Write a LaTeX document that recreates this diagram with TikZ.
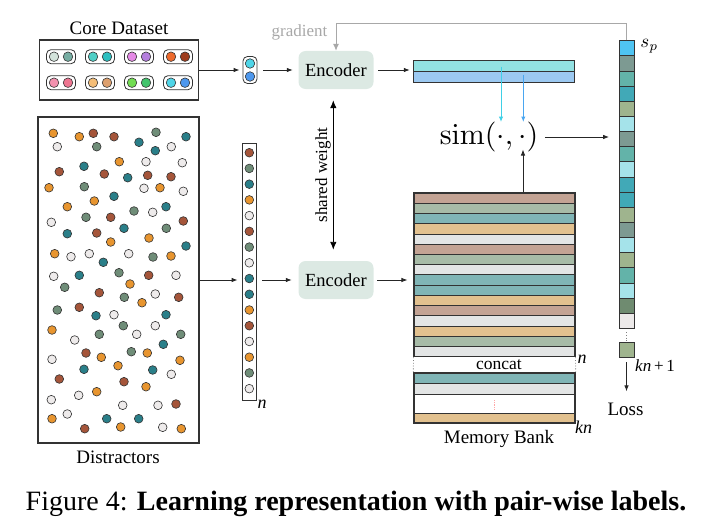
\documentclass[tikz,border=0pt]{standalone}
\usepackage[no-math]{fontspec}
\setmainfont{Liberation Serif}
\usetikzlibrary{arrows.meta}
% core pair colours
\definecolor{ca1}{HTML}{D3E3DB}\definecolor{cb1}{HTML}{76ADA2}
\definecolor{ca2}{HTML}{4ECFC6}\definecolor{cb2}{HTML}{2BBFC0}
\definecolor{ca3}{HTML}{E58AE6}\definecolor{cb3}{HTML}{B47EDD}
\definecolor{ca4}{HTML}{EE6A2C}\definecolor{cb4}{HTML}{9E3C1C}
\definecolor{ca5}{HTML}{F391AE}\definecolor{cb5}{HTML}{EE7590}
\definecolor{ca6}{HTML}{F5BE78}\definecolor{cb6}{HTML}{DDA06E}
\definecolor{ca7}{HTML}{72DD52}\definecolor{cb7}{HTML}{42C46C}
\definecolor{ca8}{HTML}{4FD5E8}\definecolor{cb8}{HTML}{4E98EE}
% distractor colours
\definecolor{dO}{HTML}{E8952F}\definecolor{dB}{HTML}{A5553A}
\definecolor{dT}{HTML}{2A7F89}\definecolor{dG}{HTML}{6F8D78}
\definecolor{dW}{HTML}{EEEBEB}
% memory bank colours
\definecolor{mB}{HTML}{C3A394}\definecolor{mG}{HTML}{A7BBA7}
\definecolor{mT}{HTML}{80B5B6}\definecolor{mO}{HTML}{E2C18F}
\definecolor{mW}{HTML}{E3E5E5}
% score column colours
\definecolor{kBl}{HTML}{4FC4F2}\definecolor{kGT}{HTML}{7D9A92}
\definecolor{kTG}{HTML}{63B3A9}\definecolor{kT}{HTML}{41A9B7}
\definecolor{kS}{HTML}{9FB48E}\definecolor{kLC}{HTML}{A5E3EA}
\definecolor{kD}{HTML}{6F8B70}\definecolor{kLG}{HTML}{ECE9E9}
% misc
\definecolor{encfill}{HTML}{DCE9E3}
\definecolor{eC}{HTML}{92E1E2}\definecolor{eB}{HTML}{9CC9F1}
\definecolor{arC}{HTML}{3FD0E6}\definecolor{arB}{HTML}{4AA6F0}
\definecolor{gradc}{HTML}{A8A8A8}
\definecolor{linec}{HTML}{333333}
\begin{document}
\begin{tikzpicture}[x=1pt,y=-1pt,
  arr/.style={-{Latex[length=6pt,width=4.5pt]}, line width=0.8pt, draw=black!85},
  dbl/.style={{Latex[length=8pt,width=6.5pt]}-{Latex[length=8pt,width=6.5pt]}, line width=0.9pt},
  gradarr/.style={-{Latex[length=7pt,width=6pt]}, line width=1pt, draw=gradc},
  simarr/.style={-{Latex[length=5.5pt,width=4.5pt]}, line width=1pt},
  bigbox/.style={draw=linec, line width=1.2pt, inner sep=0pt},
  pairbox/.style={draw=linec, line width=0.8pt, rounded corners=4.5pt, fill=white, inner sep=0pt},
  dot/.style={circle, draw=linec, line width=0.6pt, inner sep=0pt, minimum size=8.7pt},
  enc/.style={rounded corners=7pt, fill=encfill, minimum width=75pt, minimum height=38pt, inner sep=0pt, font=\fontsize{18.5}{20}\selectfont},
  lbl/.style={font=\fontsize{19}{21}\selectfont, inner sep=0pt},
  ital/.style={font=\fontsize{18}{20}\selectfont\itshape, inner sep=0pt},
  memrow/.style={draw=linec, line width=0.8pt},
  cell/.style={draw=linec, line width=0.8pt, minimum width=15pt, minimum height=15.14pt, inner sep=0pt},
]
\useasboundingbox (0,0) rectangle (712,527);

% ---------------- Core dataset ----------------
\node[lbl, anchor=base] (coretitle) at (119,35) {Core Dataset};
\node[bigbox, minimum width=159pt, minimum height=60pt] (core) at (119,70) {};
\foreach \i/\x/\y in {1/61/56.7,2/100/56.7,3/139/56.7,4/178/56.7,5/61/82.7,6/100/82.7,7/139/82.7,8/178/82.7}{
  \node[pairbox, minimum width=29pt, minimum height=14pt] (cp\i) at (\x,\y) {};
  \node[dot, minimum size=9.5pt, fill=ca\i] (cpa\i) at ([xshift=-7pt]cp\i.center) {};
  \node[dot, minimum size=9.5pt, fill=cb\i] (cpb\i) at ([xshift=7pt]cp\i.center) {};
}
% sampled pair
\node[pairbox, minimum width=14pt, minimum height=27pt] (pair) at (250,70) {};
\node[dot, minimum size=9.5pt, fill=ca8] (pairA) at ([yshift=6.5pt]pair.center) {};
\node[dot, minimum size=9.5pt, fill=cb8] (pairB) at ([yshift=-6.5pt]pair.center) {};

% ---------------- Distractors ----------------
\node[bigbox, minimum width=161pt, minimum height=326pt] (dist) at (118.5,280) {};
\node[lbl, anchor=base] (disttitle) at (118,463) {Distractors};
\foreach \x/\y/\c in {
53.3/133.3/O,79.3/136.7/O,93.3/133.3/B,114/136.7/B,156/132.3/G,186/136.7/T,
57.3/146.7/W,96.7/146.7/G,139/142.3/T,155.3/150.7/T,171.3/146.7/W,
119.3/161.7/O,146/161.7/W,182.3/162.7/W,59.3/171.7/B,84/166.3/T,104.3/174/B,
127.7/177.7/T,147.7/175.3/B,171/176.7/B,49/187.7/O,84.3/186.7/G,144/188.3/W,
160/187.7/O,183.3/191.3/W,94.3/201/O,114/196.3/T,67.3/206.7/O,134/211/G,
152.7/212.3/W,166/206.7/T,51.3/222.3/W,86/217.3/G,110.7/217.3/B,183.3/221/B,
124/228.3/T,166.3/228.3/G,67.3/233.7/T,96.7/233/B,149/238/O,110.7/242/O,
186/246/T,54.7/253.7/O,71/256.7/W,89.3/253.7/W,128.7/253.7/W,153/257/G,
171/256/O,103.3/262.3/T,53.7/276.3/W,79.3/275.3/T,119/272.7/G,148.7/275.3/B,
176/275.3/W,
130/284/O,64.7/287.3/G,99.3/292.7/B,124.3/297.3/G,155.3/294/W,178.7/297.3/B,
142/302.7/O,57.3/310/G,79.3/307.3/B,96/315.7/T,114/314.7/W,166/314.7/T,
123.3/325.7/G,155.3/325.7/W,52/330/O,74.7/340/W,99.3/334.3/G,136.7/334.3/W,
180.7/334.3/G,163.3/344.3/T,86/353/B,131.3/351.7/G,147.3/353/O,101.3/357.3/O,
52/359.3/W,180/360.3/O,118/365.7/O,84/369.3/T,152.7/370/T,171.3/374.3/W,
59.3/379/B,124/381.7/B,146/386.7/O,96.7/391.7/O,78.7/395.3/W,51.3/399.7/W,
122.7/405.3/W,158/405.3/W,176/404/B,67.3/414/W,52/418.7/O,106.7/418.7/T,
138.7/418.7/T,84.7/428.7/B,120.7/427/O,162.7/427.3/W,181.3/428.7/O}{
  \node[dot, fill=d\c] at (\x,\y) {};
}
% sampled sequence
\node[draw=linec, line width=0.8pt, minimum width=14pt, minimum height=257pt, inner sep=0pt] (seq) at (249,271.5) {};
\foreach \c [count=\k] in {B,G,T,O,W,B,G,W,T,T,O,B,W,O,G,W}{
  \node[dot, fill=d\c] (q\k) at (249.3,{152.7+15.73*(\k-1)}) {};
}
\node[ital, anchor=base] (nseq) at (262,408) {n};

% ---------------- Encoders ----------------
\node[enc] (enc1) at (336,70) {Encoder};
\node[enc] (enc2) at (336,280) {Encoder};
\draw[dbl, shorten <=11pt, shorten >=11pt] ([xshift=-2.7pt]enc1.south) -- ([xshift=-2.7pt]enc2.north);
\node[font=\fontsize{17}{19}\selectfont, rotate=90, inner sep=0pt] (sw) at (323,175) {shared weight};

% gradient
\node[font=\fontsize{17}{19}\selectfont, text=gradc, anchor=base, inner sep=0pt] (gradlbl) at (299.5,36.5) {gradient};

% ---------------- Embedding ----------------
\node[minimum width=160pt, minimum height=21pt, inner sep=0pt] (emb) at (494,71.5) {};
\fill[eC] (emb.north west) rectangle (emb.east);
\fill[eB] (emb.west) rectangle (emb.south east);
\draw[linec, line width=0.9pt] (emb.west) -- (emb.east);
\draw[linec, line width=1pt] (emb.north west) rectangle (emb.south east);

% sim
\node[scale=3, inner sep=0pt] (sim) at (489,137) {$\mathrm{sim}(\cdot,\cdot)$};
\coordinate (embC) at (501,66.7);
\coordinate (embB) at (523.3,75);
\coordinate (simC) at (501,122);
\coordinate (simB) at (523.3,122);
\coordinate (simU) at (523,149.5);
\draw[simarr, draw=arC] (embC) -- (simC);
\draw[simarr, draw=arB] (embB) -- (simB);

% ---------------- Memory bank ----------------
\foreach \c [count=\k] in {B,G,T,O,W,B,G,W,T,T,O,B,W,O,G,W}{
  \draw[memrow, fill=m\c] (414,{193+10.23*(\k-1)}) rectangle (575,{193+10.23*\k});
}
\node[draw=linec, line width=1.1pt, minimum width=161pt, minimum height=163.7pt, inner sep=0pt] (mem) at (494.5,274.85) {};
\draw[memrow, fill=mT] (414,373) rectangle (575,383.5);
\draw[memrow, fill=mW] (414,383.5) rectangle (575,394);
\draw[memrow, fill=mO] (414,413) rectangle (575,423);
\node[draw=linec, line width=1.3pt, minimum width=161pt, minimum height=50pt, inner sep=0pt] (mem2) at (494.5,398) {};
\draw[densely dotted, line width=0.8pt, color=red!35] (494,400) -- (494,410);
\draw[dotted, line width=0.8pt, gray] (mem.south west) -- (mem2.north west);
\draw[dotted, line width=0.8pt, gray] (mem.south east) -- (mem2.north east);
\node[font=\fontsize{17.5}{19}\selectfont, anchor=base, inner sep=0pt] (concat) at (499,369) {concat};
\node[ital, anchor=base] (nmem) at (582,363) {n};
\node[ital, anchor=base west] (knmem) at (575,433) {kn};
\node[lbl, anchor=base] (memtitle) at (499,443.5) {Memory Bank};

% ---------------- Score column ----------------
\foreach \c [count=\k] in {kBl,kGT,kTG,kT,kS,kLC,kGT,kTG,kLC,kT,kT,kS,kGT,kLC,kS,kTG,kLC,kD,kLG}{
  \node[cell, fill=\c] (s\k) at (626.5,{40.7+15.14*(\k-0.5)}) {};
}
\draw[dotted, line width=0.8pt, gray] (626,332) -- (626,341);
\node[cell, fill=kS] (sL) at (626.5,350.2) {};
\node[scale=1.9, anchor=west, inner sep=0pt] (sp) at (640,46) {$s_p$};
\node[font=\fontsize{17}{19}\selectfont, anchor=base west, inner sep=0pt] (kn1) at (635,371.7) {\textit{kn}\,+\,1};
\node[lbl, anchor=base] (loss) at (625.5,415) {Loss};

% ---------------- connectors ----------------
\draw[arr, shorten >=3pt] (core.east) -- (core.east -| pair.west);
\draw[arr, shorten <=6pt, shorten >=5.5pt] (pair.east) -- (enc1.west);
\draw[arr, shorten <=4.5pt, shorten >=4pt] (enc1.east) -- (enc1.east -| emb.west);
\draw[arr, shorten >=4pt] (dist.east) -- (dist.east -| seq.west);
\draw[arr, shorten <=6pt, shorten >=6.5pt] (seq.east |- enc2.west) -- (enc2.west);
\draw[arr, shorten <=3.5pt, shorten >=6pt] (enc2.east) -- (enc2.east -| mem.west);
\draw[arr] (mem.north -| simU) -- (simU);
\draw[arr, shorten <=6pt, shorten >=9.5pt] (sim.east) -- (sim.east -| s7.west);
\draw[arr, shorten <=4pt, shorten >=11pt] (sL.south) -- (sL.south |- loss.north);
\coordinate (gtop) at (0,23.5);
\draw[gradarr] (s1.north) -- (s1.north |- gtop) -| (enc1.north);

% ---------------- caption ----------------
\node[font=\fontsize{28}{30}\selectfont, anchor=base, inner sep=0pt] (cap) at (356,510.7) {Figure 4: \textbf{Learning representation with pair-wise labels.}};
\end{tikzpicture}
\end{document}
